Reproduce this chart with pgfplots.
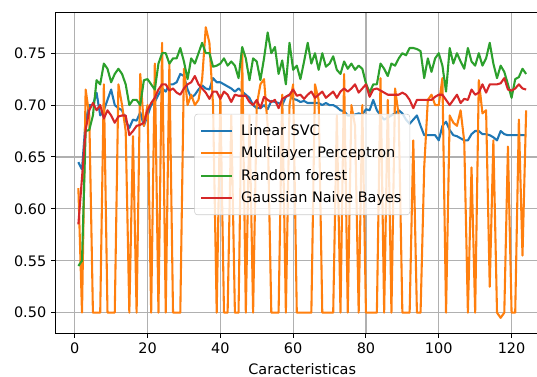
\documentclass[border=0pt]{standalone}
\usepackage{fontspec}
\setmainfont{DejaVu Sans}
\usepackage{pgfplots}
\usepackage{pgfplotstable}
\pgfplotsset{compat=1.18}
\definecolor{c0}{HTML}{1F77B4}
\definecolor{c1}{HTML}{FF7F0E}
\definecolor{c2}{HTML}{2CA02C}
\definecolor{c3}{HTML}{D62728}
\definecolor{gridc}{HTML}{B0B0B0}
\pgfplotstableread{
x svc mlp rf gnb
1 0.645 0.62 0.545 0.585
2 0.638 0.50 0.55 0.63
3 0.685 0.715 0.675 0.676
4 0.70 0.69 0.676 0.695
5 0.70 0.50 0.69 0.702
6 0.712 0.50 0.724 0.695
7 0.69 0.50 0.72 0.70
8 0.695 0.72 0.74 0.687
9 0.705 0.50 0.735 0.695
10 0.715 0.50 0.722 0.69
11 0.70 0.50 0.73 0.683
12 0.697 0.72 0.735 0.689
13 0.695 0.70 0.73 0.69
14 0.685 0.675 0.72 0.69
15 0.678 0.50 0.70 0.671
16 0.686 0.67 0.705 0.675
17 0.685 0.50 0.705 0.68
18 0.693 0.73 0.70 0.681
19 0.68 0.68 0.724 0.683
20 0.69 0.70 0.725 0.695
21 0.70 0.50 0.72 0.702
22 0.703 0.74 0.715 0.707
23 0.71 0.50 0.74 0.715
24 0.716 0.76 0.75 0.72
25 0.713 0.50 0.75 0.72
26 0.72 0.74 0.74 0.714
27 0.72 0.50 0.745 0.716
28 0.722 0.50 0.745 0.712
29 0.73 0.50 0.755 0.71
30 0.728 0.735 0.742 0.716
31 0.715 0.70 0.725 0.72
32 0.707 0.71 0.745 0.722
33 0.71 0.70 0.74 0.728
34 0.715 0.705 0.75 0.72
35 0.719 0.725 0.76 0.716
36 0.716 0.775 0.75 0.712
37 0.715 0.76 0.75 0.706
38 0.726 0.70 0.737 0.713
39 0.722 0.50 0.738 0.713
40 0.722 0.71 0.74 0.706
41 0.72 0.50 0.745 0.713
42 0.718 0.50 0.738 0.71
43 0.716 0.69 0.742 0.703
44 0.713 0.50 0.738 0.71
45 0.716 0.50 0.726 0.709
46 0.713 0.75 0.756 0.709
47 0.71 0.50 0.745 0.709
48 0.707 0.69 0.724 0.703
49 0.70 0.50 0.745 0.70
50 0.697 0.70 0.742 0.705
51 0.697 0.72 0.724 0.697
52 0.70 0.725 0.745 0.708
53 0.696 0.68 0.77 0.705
54 0.704 0.50 0.75 0.703
55 0.703 0.50 0.756 0.705
56 0.702 0.50 0.73 0.697
57 0.70 0.71 0.743 0.706
58 0.708 0.50 0.72 0.708
59 0.71 0.70 0.76 0.71
60 0.706 0.72 0.734 0.715
61 0.705 0.50 0.738 0.709
62 0.703 0.50 0.725 0.71
63 0.704 0.50 0.742 0.706
64 0.702 0.50 0.76 0.71
65 0.702 0.50 0.74 0.713
66 0.702 0.72 0.75 0.707
67 0.702 0.705 0.734 0.71
68 0.70 0.50 0.75 0.713
69 0.702 0.50 0.737 0.707
70 0.70 0.50 0.74 0.71
71 0.70 0.50 0.747 0.713
72 0.698 0.69 0.734 0.707
73 0.695 0.50 0.73 0.713
74 0.694 0.73 0.742 0.716
75 0.69 0.50 0.735 0.713
76 0.69 0.70 0.74 0.716
77 0.691 0.68 0.734 0.72
78 0.692 0.50 0.738 0.712
79 0.691 0.70 0.735 0.716
80 0.696 0.50 0.721 0.72
81 0.695 0.50 0.712 0.708
82 0.705 0.50 0.72 0.715
83 0.695 0.50 0.72 0.716
84 0.69 0.726 0.74 0.714
85 0.686 0.50 0.735 0.712
86 0.688 0.705 0.728 0.71
87 0.69 0.50 0.74 0.71
88 0.692 0.716 0.738 0.71
89 0.695 0.69 0.745 0.71
90 0.692 0.50 0.75 0.712
91 0.686 0.50 0.748 0.71
92 0.682 0.50 0.755 0.705
93 0.686 0.666 0.755 0.697
94 0.69 0.50 0.754 0.705
95 0.68 0.50 0.752 0.705
96 0.671 0.64 0.726 0.705
97 0.671 0.705 0.745 0.705
98 0.671 0.71 0.732 0.705
99 0.671 0.70 0.745 0.708
100 0.666 0.70 0.75 0.71
101 0.68 0.726 0.738 0.71
102 0.684 0.50 0.713 0.705
103 0.676 0.69 0.755 0.70
104 0.671 0.683 0.74 0.705
105 0.67 0.68 0.75 0.71
106 0.668 0.695 0.742 0.702
107 0.666 0.665 0.735 0.706
108 0.666 0.50 0.755 0.705
109 0.672 0.64 0.742 0.715
110 0.675 0.50 0.738 0.71
111 0.675 0.724 0.75 0.712
112 0.672 0.692 0.738 0.72
113 0.672 0.695 0.745 0.712
114 0.671 0.525 0.76 0.72
115 0.669 0.666 0.74 0.72
116 0.666 0.50 0.726 0.72
117 0.675 0.495 0.738 0.721
118 0.672 0.50 0.732 0.726
119 0.671 0.66 0.72 0.715
120 0.671 0.50 0.707 0.714
121 0.671 0.50 0.725 0.716
122 0.671 0.686 0.727 0.72
123 0.671 0.555 0.735 0.716
124 0.671 0.695 0.73 0.715
}\data
\begin{document}
\begin{tikzpicture}
\useasboundingbox (-40.3pt,-30.96pt) rectangle (346.3pt,239.74pt);
\begin{scope}
\clip (-40.3pt,-30.96pt) rectangle (346.3pt,239.74pt);
\begin{axis}[
  at={(0pt,0pt)}, anchor=south west,
  scale only axis, width=354.6pt, height=231.1pt,
  xmin=-5.15, xmax=130.15, ymin=0.4804, ymax=0.7897,
  xtick={0,20,...,120},
  ytick={0.50,0.55,0.60,0.65,0.70,0.75},
  yticklabel style={/pgf/number format/.cd, fixed, fixed zerofill, precision=2},
  /pgf/number format/assume math mode=true,
  ticklabel style={font=\fontsize{10.4}{12.5}\selectfont},
  tick align=outside, xtick pos=left, ytick pos=left,
  major tick length=3.5pt,
  every tick/.style={black, line width=0.7pt},
  axis line style={black, line width=0.7pt},
  grid=major, major grid style={gridc, line width=0.8pt},
  xlabel={Caracteristicas},
  xlabel style={font=\fontsize{10.4}{12.5}\selectfont},
  legend style={at={(0.5,0.525)}, anchor=center, draw=black!20, fill=white,
    fill opacity=0.8, text opacity=1, rounded corners=2pt,
    inner xsep=4pt, inner ysep=5.5pt, row sep=2.6pt,
    font=\fontsize{10.4}{12.5}\selectfont, cells={anchor=west},
    /tikz/every odd column/.append style={column sep=4pt}},
  legend image code/.code={\draw[#1, line width=1.5pt] (0pt,0pt) -- (22pt,0pt);},
  every axis plot/.append style={line width=1.5pt, line join=round, no markers},
]
\addplot[c0] table[x=x, y=svc] {\data};
\addlegendentry{Linear SVC}
\addplot[c1] table[x=x, y=mlp] {\data};
\addlegendentry{Multilayer Perceptron}
\addplot[c2] table[x=x, y=rf] {\data};
\addlegendentry{Random forest}
\addplot[c3] table[x=x, y=gnb] {\data};
\addlegendentry{Gaussian Naive Bayes}
\end{axis}
\end{scope}
\end{tikzpicture}
\end{document}
